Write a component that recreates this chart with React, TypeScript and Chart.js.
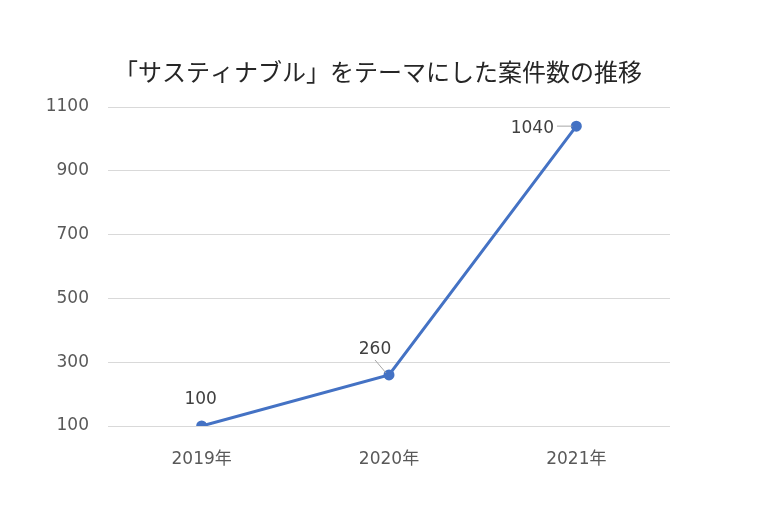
import React, { useEffect, useRef } from "react";
import { Chart, registerables } from "chart.js";

Chart.register(...registerables);

const TITLE = "「サスティナブル」をテーマにした案件数の推移";
const YEARS = ["2019年", "2020年", "2021年"];
const CASES = [100, 260, 1040];
const Y_MIN = 100;
const Y_MAX = 1100;
const Y_STEP = 200;

const TITLE_FONT = "'Noto Sans CJK JP', 'Noto Sans', sans-serif";
const TEXT_FONT = "'DejaVu Sans', 'Noto Sans CJK JP', sans-serif";

// Per-point label placement (dx, dy from the point) and whether a leader line is drawn
const LABEL_OFFSETS = [
  { dx: -1, dy: -26, leader: false },
  { dx: -14, dy: -25, leader: true },
  { dx: -44, dy: 2, leader: true },
];

const titlePlugin = {
  id: "customTitle",
  afterDraw(chart: any) {
    const ctx = chart.ctx;
    ctx.save();
    ctx.font = `24px ${TITLE_FONT}`;
    ctx.fillStyle = "#262626";
    ctx.textAlign = "center";
    ctx.textBaseline = "middle";
    ctx.fillText(TITLE, 378, 72);
    ctx.restore();
  },
};

const valueLabelPlugin = {
  id: "valueLabels",
  afterDatasetsDraw(chart: any) {
    const ctx = chart.ctx;
    const meta = chart.getDatasetMeta(0);
    ctx.save();
    ctx.font = `17px ${TEXT_FONT}`;
    ctx.fillStyle = "#404040";
    ctx.textAlign = "center";
    ctx.textBaseline = "middle";
    meta.data.forEach((pt: any, i: number) => {
      const o = LABEL_OFFSETS[i];
      const text = String(CASES[i]);
      const lx = pt.x + o.dx;
      const ly = pt.y + o.dy;
      ctx.fillText(text, lx, ly);
      if (o.leader) {
        const w = ctx.measureText(text).width;
        ctx.strokeStyle = "#a6a6a6";
        ctx.lineWidth = 1;
        ctx.beginPath();
        if (i === CASES.length - 1) {
          ctx.moveTo(lx + w / 2 + 3, pt.y);
          ctx.lineTo(pt.x - 4, pt.y);
        } else {
          ctx.moveTo(lx, ly + 10);
          ctx.lineTo(pt.x - 3, pt.y - 2);
        }
        ctx.stroke();
      }
    });
    ctx.restore();
  },
};

export default function App() {
  const canvasRef = useRef<HTMLCanvasElement>(null);

  useEffect(() => {
    if (!canvasRef.current) return;
    const chart = new Chart(canvasRef.current, {
      type: "line",
      data: {
        labels: YEARS,
        datasets: [
          {
            data: CASES,
            borderColor: "#4472C4",
            backgroundColor: "#4472C4",
            borderWidth: 3,
            pointRadius: 4,
            pointBackgroundColor: "#4472C4",
            pointBorderColor: "#4472C4",
            tension: 0,
          },
        ],
      },
      options: {
        responsive: false,
        animation: false,
        layout: { padding: { top: 107, right: 98, bottom: 0, left: 0 } },
        plugins: {
          legend: { display: false },
          title: { display: false },
          tooltip: { enabled: false },
        },
        scales: {
          x: {
            offset: true,
            grid: { display: false, drawTicks: false },
            border: { display: false },
            ticks: {
              color: "#595959",
              font: { family: TEXT_FONT, size: 17 },
              padding: 23,
            },
            afterFit(scale: any) {
              scale.height = 88;
            },
          },
          y: {
            min: Y_MIN,
            max: Y_MAX,
            grid: { color: "#d9d9d9", lineWidth: 1, drawTicks: false },
            border: { display: false },
            ticks: {
              stepSize: Y_STEP,
              color: "#595959",
              font: { family: TEXT_FONT, size: 17 },
              padding: 19,
              callback: (v: any) => String(v),
            },
            afterFit(scale: any) {
              scale.width = 108;
            },
          },
        },
      },
      plugins: [titlePlugin, valueLabelPlugin],
    });
    return () => chart.destroy();
  }, []);

  return (
    <div style={{ position: "fixed", left: 0, top: 0, width: 768, height: 514, background: "#fff" }}>
      <canvas ref={canvasRef} width={768} height={514} />
    </div>
  );
}
